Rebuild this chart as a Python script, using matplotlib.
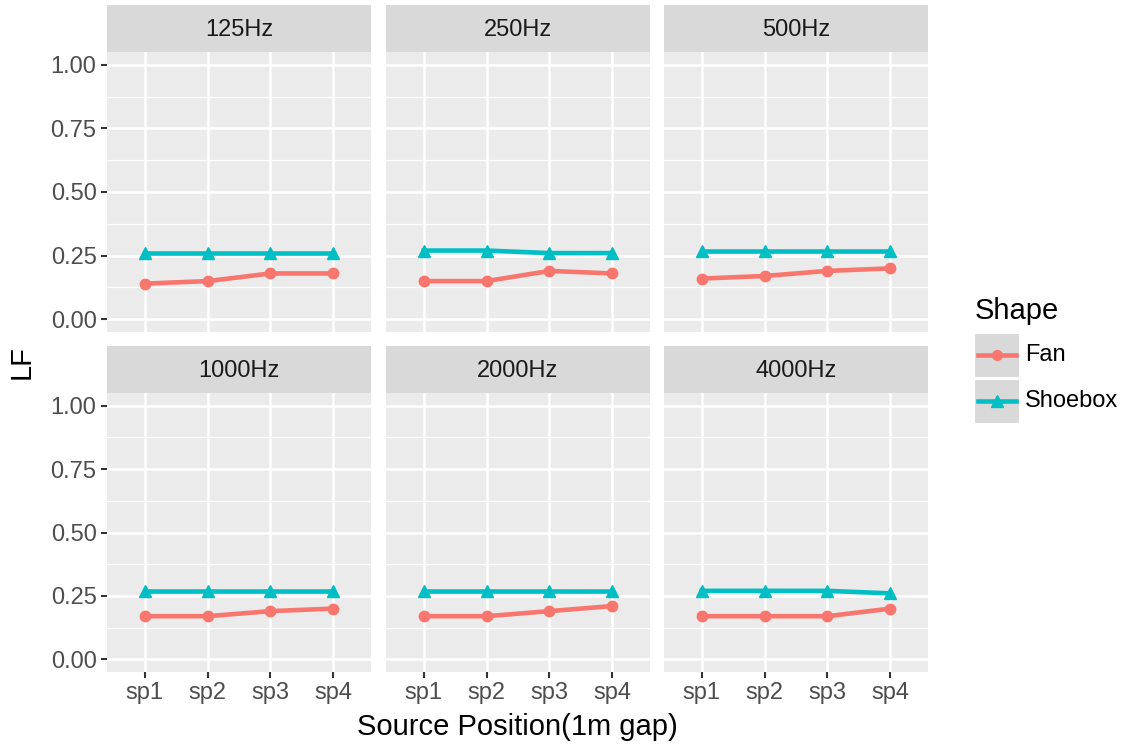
import matplotlib
matplotlib.use("Agg")
import matplotlib.pyplot as plt
from matplotlib.lines import Line2D
from matplotlib.patches import Rectangle

plt.rcParams['font.family'] = ['Liberation Sans', 'DejaVu Sans']

positions = ["sp1", "sp2", "sp3", "sp4"]
freqs = ["125Hz", "250Hz", "500Hz", "1000Hz", "2000Hz", "4000Hz"]
fan = {
    "125Hz": [0.14, 0.15, 0.18, 0.18],
    "250Hz": [0.15, 0.15, 0.19, 0.18],
    "500Hz": [0.16, 0.17, 0.19, 0.20],
    "1000Hz": [0.17, 0.17, 0.19, 0.20],
    "2000Hz": [0.17, 0.17, 0.19, 0.21],
    "4000Hz": [0.17, 0.17, 0.17, 0.20],
}
shoebox = {
    "125Hz": [0.26, 0.26, 0.26, 0.26],
    "250Hz": [0.27, 0.27, 0.26, 0.26],
    "500Hz": [0.27, 0.27, 0.27, 0.27],
    "1000Hz": [0.27, 0.27, 0.27, 0.27],
    "2000Hz": [0.27, 0.27, 0.27, 0.27],
    "4000Hz": [0.27, 0.27, 0.27, 0.26],
}
yticks = [0.0, 0.25, 0.5, 0.75, 1.0]
ytick_labels = ["0.00", "0.25", "0.50", "0.75", "1.00"]

FAN_C = "#F8766D"
SHOE_C = "#00BFC4"
W, H = 1128, 745
fig = plt.figure(figsize=(W / 100, H / 100), dpi=100)

lefts = [107, 386, 664]
pw = 264
rows = [(52, 332), (393, 672)]
strip_h = 47
tick_c = "#4D4D4D"
fs = 17

xs = list(range(1, len(positions) + 1))
for i, f in enumerate(freqs):
    r, c = divmod(i, 3)
    top, bot = rows[r]
    ax = fig.add_axes([lefts[c] / W, 1 - bot / H, pw / W, (bot - top) / H])
    ax.set_facecolor("#EBEBEB")
    for s in ax.spines.values():
        s.set_visible(False)
    ax.set_xlim(0.4, 4.6)
    ax.set_ylim(-0.05, 1.05)
    for y in [0.125, 0.375, 0.625, 0.875]:
        ax.axhline(y, color="white", lw=0.9, zorder=0)
    for y in yticks:
        ax.axhline(y, color="white", lw=1.8, zorder=0)
    for x in xs:
        ax.axvline(x, color="white", lw=1.8, zorder=0)
    ax.plot(xs, fan[f], color=FAN_C, lw=3.3, marker="o", ms=7.5, zorder=3)
    ax.plot(xs, shoebox[f], color=SHOE_C, lw=3.3, marker="^", ms=8.5, zorder=3)
    ax.set_xticks(xs)
    ax.set_yticks(yticks)
    ax.tick_params(axis="both", length=4, width=1.5, color="#333333", labelcolor=tick_c, labelsize=fs)
    if r == 1:
        ax.set_xticklabels(positions)
    else:
        ax.set_xticklabels([])
        ax.tick_params(axis="x", length=0)
    if c == 0:
        ax.set_yticklabels(ytick_labels)
    else:
        ax.set_yticklabels([])
        ax.tick_params(axis="y", length=0)
    # strip
    sax = fig.add_axes([lefts[c] / W, 1 - top / H, pw / W, strip_h / H])
    sax.set_facecolor("#D9D9D9")
    sax.set_xticks([]); sax.set_yticks([])
    for s in sax.spines.values():
        s.set_visible(False)
    sax.text(0.5, 0.46, f, ha="center", va="center", fontsize=fs, color="#1A1A1A", transform=sax.transAxes)

fig.text((lefts[0] + lefts[2] + pw) / 2 / W, 1 - 727 / H, "Source Position(1m gap)", ha="center", va="center", fontsize=21)
fig.text(22 / W, 1 - 362 / H, "LF", ha="center", va="center", rotation=90, fontsize=21)

# legend
fig.text(975 / W, 1 - 311 / H, "Shape", ha="left", va="center", fontsize=21)
for k, (lab, col, mk) in enumerate([("Fan", FAN_C, "o"), ("Shoebox", SHOE_C, "^")]):
    ky = 333 + k * 46
    fig.patches.append(Rectangle((974 / W, 1 - (ky + 45) / H), 46 / W, 45 / H, transform=fig.transFigure,
                                 facecolor="#D9D9D9", edgecolor="white", lw=1.5))
    fig.lines.append(Line2D([978 / W, 1016 / W], [1 - (ky + 22) / H] * 2, transform=fig.transFigure,
                            color=col, lw=3.3))
    fig.lines.append(Line2D([997 / W], [1 - (ky + 22) / H], transform=fig.transFigure,
                            color=col, marker=mk, ms=7 if mk == "o" else 8, lw=0))
    fig.text(1025 / W, 1 - (ky + 22) / H, lab, ha="left", va="center", fontsize=17)

fig.savefig("out.png", dpi=100)
